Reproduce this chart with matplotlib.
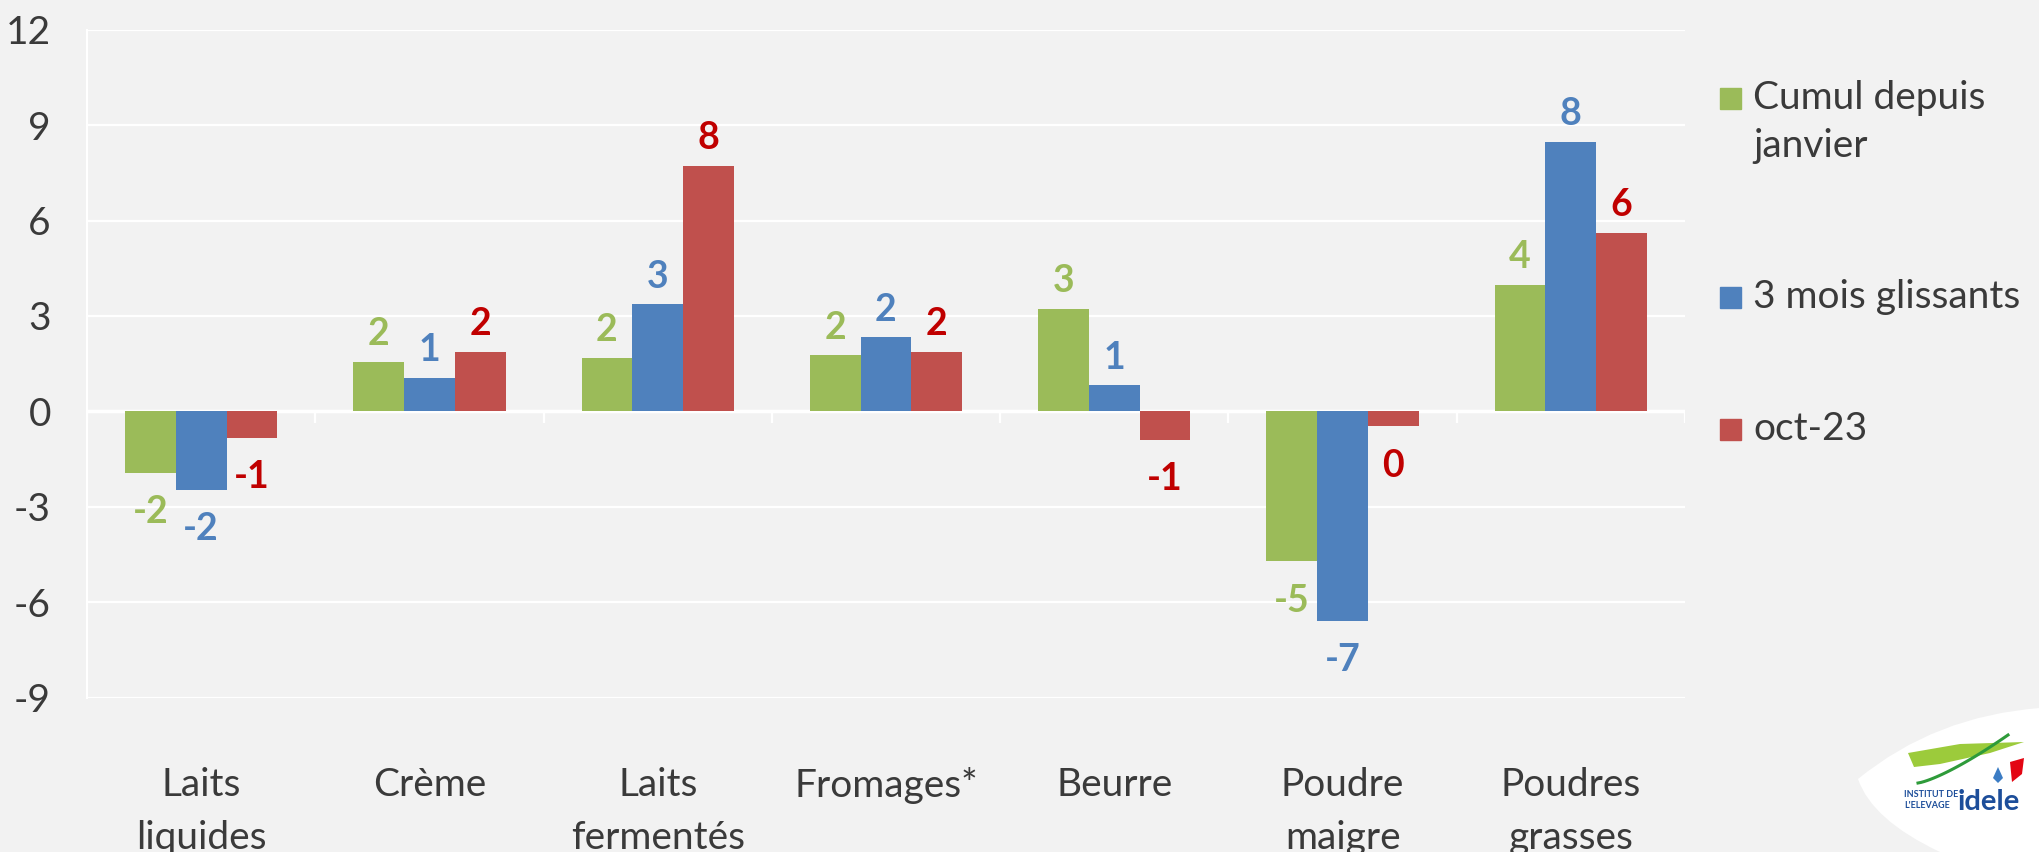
import matplotlib
matplotlib.use("Agg")
import matplotlib.pyplot as plt
from matplotlib.patches import PathPatch, Rectangle, Polygon
from matplotlib.path import Path
import numpy as np

# ---- data ----
categories = ["Laits\nliquides", "Crème", "Laits\nfermentés", "Fromages*", "Beurre",
              "Poudre\nmaigre", "Poudres\ngrasses"]
series_names = ["Cumul depuis\njanvier", "3 mois glissants", "oct-23"]
cumul_janvier = [-1.94, 1.56, 1.68, 1.76, 3.23, -4.72, 3.97]
trois_mois = [-2.48, 1.06, 3.36, 2.33, 0.82, -6.60, 8.48]
oct_23 = [-0.83, 1.88, 7.71, 1.88, -0.90, -0.47, 5.61]
y_ticks = [-9, -6, -3, 0, 3, 6, 9, 12]

bar_colors = ["#9BBB59", "#4F81BD", "#C0504D"]
label_colors = ["#9BBB59", "#4F81BD", "#C00000"]
bg = "#F2F2F2"
txt = "#3A3A3A"
FONT = "Lato"
TW = "normal"

W, H = 2040, 852
fig = plt.figure(figsize=(W / 100, H / 100), dpi=100, facecolor=bg)
ax = fig.add_axes([87 / W, 1 - 697.6 / H, (1685 - 87) / W, (697.6 - 29.7) / H])
ax.set_facecolor(bg)

x = np.arange(len(categories))
bw = 0.2222
all_series = [cumul_janvier, trois_mois, oct_23]
for i, vals in enumerate(all_series):
    xs = x + (i - 1) * bw
    ax.bar(xs, vals, width=bw, color=bar_colors[i], zorder=3)
    for xi, v in zip(xs, vals):
        lab = f"{int(round(v))}"
        if v >= 0:
            ax.annotate(lab, (xi, v), xytext=(0, 12), textcoords="offset points",
                        ha="center", va="baseline", fontsize=27, fontweight="bold",
                        color=label_colors[i], family=FONT, zorder=4)
        else:
            ax.annotate(lab, (xi, v), xytext=(0, -16), textcoords="offset points",
                        ha="center", va="top", fontsize=27, fontweight="bold",
                        color=label_colors[i], family=FONT, zorder=4)

ax.set_xlim(-0.5, len(categories) - 0.5)
ax.set_ylim(-9, 12)
ax.set_yticks(y_ticks)
ax.set_yticklabels([str(t) for t in y_ticks], fontsize=28, color=txt, family=FONT,
                   fontweight=TW)
ax.set_xticks(x)
ax.set_xticklabels(categories, fontsize=28, color=txt, family=FONT, linespacing=1.6,
                   fontweight=TW)
ax.tick_params(axis="y", length=0, pad=26)
ax.tick_params(axis="x", length=0, pad=50)

for s in ["top", "right", "bottom"]:
    ax.spines[s].set_visible(False)
ax.spines["left"].set_color("white")
ax.spines["left"].set_linewidth(1.5)
ax.set_axisbelow(True)
ax.yaxis.grid(True, color="white", linewidth=1.6)
ax.axhline(0, color="white", linewidth=2.5, zorder=2)
bounds = np.arange(len(categories) + 1) - 0.5
ax.vlines(bounds, -0.38, 0, color="white", linewidth=1.6, zorder=2)

# ---- legend (manual, right side) ----
ov = fig.add_axes([0, 0, 1, 1], facecolor="none")
ov.set_xlim(0, W)
ov.set_ylim(H, 0)
ov.axis("off")
leg_baselines = [109, 308, 440]
for i, name in enumerate(series_names):
    yb = leg_baselines[i]
    ov.add_patch(Rectangle((1720, yb - 21), 21, 21, color=bar_colors[i]))
    for k, line in enumerate(name.split("\n")):
        ov.text(1753, yb + 48 * k, line, fontsize=28, color=txt, family=FONT,
                fontweight=TW, ha="left", va="baseline")

# ---- logo (bottom right) ----
verts = [(1858, 779), (1935, 716), (2040, 708), (2040, 852), (1940, 852),
         (1872, 820), (1858, 779)]
codes = [Path.MOVETO, Path.CURVE3, Path.CURVE3, Path.LINETO, Path.LINETO,
         Path.CURVE3, Path.CURVE3]
ov.add_patch(PathPatch(Path(verts, codes), facecolor="white", edgecolor="none"))
ov.add_patch(Polygon([(1908, 753), (1960, 744), (2024, 742), (1990, 753),
                      (1940, 764), (1914, 767)], closed=True,
                     facecolor="#9CCB3B", edgecolor="none"))
t = np.linspace(0, 1, 30)
ov.plot(1918 + 90 * t, 783 - 48 * t ** 1.3, color="#2E9B3A", lw=2.2)
ov.add_patch(Polygon([(2010, 762), (2024, 758), (2022, 774), (2012, 782)],
                     closed=True, facecolor="#E30613", edgecolor="none"))
ov.add_patch(Polygon([(1998, 767), (2003, 778), (1998, 783), (1993, 778)],
                     closed=True, facecolor="#3B7CC4", edgecolor="none"))
ov.text(1904, 797, "INSTITUT DE", fontsize=6.5, fontweight="bold", color="#1D4E9A",
        family=FONT, ha="left", va="baseline")
ov.text(1904, 808, "L'ELEVAGE", fontsize=6.5, fontweight="bold", color="#1D4E9A",
        family=FONT, ha="left", va="baseline")
ov.text(1958, 810, "idele", fontsize=21, fontweight="bold", color="#1D4E9A",
        family=FONT, ha="left", va="baseline")

fig.savefig("out.png", dpi=100, facecolor=bg)
